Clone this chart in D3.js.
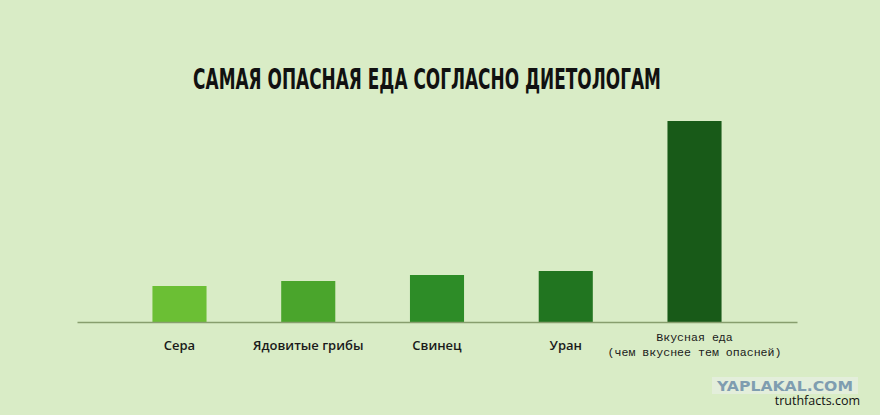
<!DOCTYPE html>
<html><head><meta charset="utf-8">
<script src="https://cdn.jsdelivr.net/npm/d3@7"></script>
<style>html,body{margin:0;padding:0;background:#d9ecc6;}svg{display:block;}</style>
</head><body>
<svg id="c" width="880" height="415"></svg>
<script>
const categories = ["Сера", "Ядовитые грибы", "Свинец", "Уран", "Вкусная еда"];
const values = [36, 41, 47, 51, 201];
const colors = ["#6bbf34", "#4aa52c", "#2d8c27", "#217520", "#185a18"];
const subLabels = ["", "", "", "", "(чем вкуснее тем опасней)"];
const title = "САМАЯ ОПАСНАЯ ЕДА СОГЛАСНО ДИЕТОЛОГАМ";

const svg = d3.select("#c");
svg.append("rect").attr("width",880).attr("height",415).attr("fill","#d9ecc6");

const x = d3.scaleBand().domain(categories).range([77,797]).paddingInner(0.58).paddingOuter(0.586);
const y = d3.scaleLinear().domain([0,201]).range([322,121]);

const tg = svg.append("g").attr("transform","translate(427,89)");
const t = tg.append("text").attr("x",0).attr("y",0).attr("text-anchor","middle")
  .attr("font-family","'DejaVu Sans Condensed','DejaVu Sans',sans-serif")
  .attr("font-weight","bold").attr("font-size",28).attr("fill","#111").text(title);
const w = t.node().getComputedTextLength();
if (w > 0) tg.attr("transform", `translate(427,89) scale(${468 / w},1)`);

svg.selectAll("rect.bar").data(categories).join("rect").attr("class","bar")
  .attr("x",d=>x(d)).attr("width",x.bandwidth())
  .attr("y",(d,i)=>y(values[i])).attr("height",(d,i)=>y(0)-y(values[i]))
  .attr("fill",(d,i)=>colors[i]);

const axis = svg.append("g").attr("transform","translate(0,322)")
  .call(d3.axisBottom(x).tickSize(0).tickFormat(""));
axis.select(".domain").attr("stroke","#889e6e").attr("stroke-width",1.5);

svg.selectAll("text.lab").data(categories).join("text").attr("class","lab")
  .attr("x",d=>x(d)+x.bandwidth()/2).attr("y",(d,i)=>i===4?341:350)
  .attr("text-anchor","middle")
  .attr("font-family",(d,i)=>i===4?"'Liberation Mono','DejaVu Sans Mono',monospace":"'Open Sans',sans-serif")
  .attr("font-size",(d,i)=>i===4?11.6:13)
  .attr("font-weight",(d,i)=>i===4?"normal":"600")
  .attr("fill","#1a1a1a").text(d=>d);

svg.selectAll("text.sub").data(categories.filter((d,i)=>subLabels[i])).join("text").attr("class","sub")
  .attr("x",d=>x(d)+x.bandwidth()/2).attr("y",356).attr("text-anchor","middle")
  .attr("font-family","'Liberation Mono','DejaVu Sans Mono',monospace").attr("font-size",11.6)
  .attr("fill","#1a1a1a").text(d=>subLabels[categories.indexOf(d)]);

svg.append("rect").attr("x",712).attr("y",377).attr("width",146).attr("height",17).attr("fill","#e3eedb");
svg.append("text").attr("x",785).attr("y",391).attr("text-anchor","middle")
  .attr("font-family","'DejaVu Sans',sans-serif").attr("font-weight","bold").attr("font-size",14)
  .attr("fill","#7f9db0").attr("textLength",136).attr("lengthAdjust","spacingAndGlyphs").text("YAPLAKAL.COM");
svg.append("text").attr("x",860).attr("y",405).attr("text-anchor","end")
  .attr("font-family","'Open Sans',sans-serif").attr("font-size",12.5).attr("fill","#111").text("truthfacts.com");
</script>
</body></html>
